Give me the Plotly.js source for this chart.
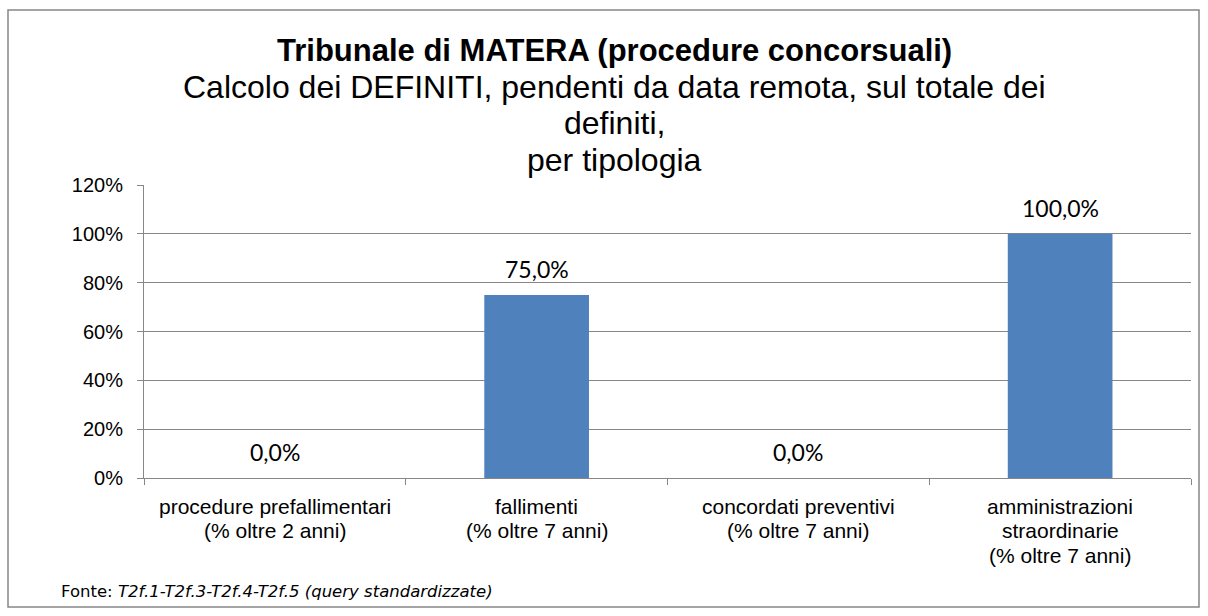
<!DOCTYPE html>
<html>
<head>
<meta charset="utf-8">
<script src="https://cdn.plot.ly/plotly-3.0.1.min.js"></script>
<style>
  html, body { margin: 0; padding: 0; background: #ffffff; }
  #chart { width: 1208px; height: 616px; }
</style>
</head>
<body>
<div id="chart"></div>
<script>
// ---- data ----
const categories = [
  "procedure prefallimentari",
  "fallimenti",
  "concordati preventivi",
  "amministrazioni straordinarie"
];
const tickLabels = [
  "procedure prefallimentari<br>(% oltre 2 anni)",
  "fallimenti<br>(% oltre 7 anni)",
  "concordati preventivi<br>(% oltre 7 anni)",
  "amministrazioni<br>straordinarie<br>(% oltre 7 anni)"
];
const values = [0.0, 0.75, 0.0, 1.0];

const titleLines = [
  "<b>Tribunale di MATERA (procedure concorsuali)</b>",
  "Calcolo dei DEFINITI, pendenti da data remota, sul totale dei",
  "definiti,",
  "per tipologia"
];
const sourceText = "Fonte: <i>T2f.1-T2f.3-T2f.4-T2f.5 (query standardizzate)</i>";

// ---- helpers ----
function fmtPct(v) {
  return (v * 100).toFixed(1).replace('.', ',') + '%';
}

const grey = '#878787';
const plotLeft = 144, plotTop = 185, plotRight = 1191, plotBottom = 478;
const W = 1208, H = 616;

const trace = {
  type: 'bar',
  x: categories,
  y: values,
  marker: { color: '#4F81BD', line: { width: 0 } },
  hoverinfo: 'skip'
};

const annotations = [];
// data labels
categories.forEach((c, i) => {
  annotations.push({
    xref: 'x', yref: 'y', x: c, y: values[i],
    text: fmtPct(values[i]),
    showarrow: false, xanchor: 'center', yanchor: 'middle',
    yshift: 26,
    font: { family: 'Lato, "Open Sans", sans-serif', size: 23, color: '#000000' }
  });
});
// category labels (one annotation per line, to match the tighter line spacing)
categories.forEach((c, i) => {
  tickLabels[i].split('<br>').forEach((line, j) => {
    annotations.push({
      xref: 'x', yref: 'paper', x: c, y: 0,
      yshift: -(28 + 24.5 * j),
      text: line, showarrow: false, xanchor: 'center', yanchor: 'middle',
      font: { family: '"Liberation Sans", Arial, sans-serif', size: 21, color: '#000000' }
    });
  });
});
// title lines
const titleCentersY = [50, 87, 123, 160];
const titleSizes = [31, 32, 32, 32];
titleLines.forEach((t, i) => {
  annotations.push({
    xref: 'paper', yref: 'paper', x: 0, y: 1,
    xshift: 614 - plotLeft, yshift: plotTop - titleCentersY[i],
    text: t, showarrow: false, xanchor: 'center', yanchor: 'middle',
    font: { family: '"Liberation Sans", Arial, sans-serif', size: titleSizes[i], color: '#000000' }
  });
});
// source
annotations.push({
  xref: 'paper', yref: 'paper', x: 0, y: 0,
  xshift: 59 - plotLeft, yshift: plotBottom - 591,
  text: sourceText, showarrow: false, xanchor: 'left', yanchor: 'middle',
  font: { family: '"DejaVu Sans", Verdana, sans-serif', size: 16.5, color: '#000000' }
});

const pw = plotRight - plotLeft, ph = plotBottom - plotTop;
const layout = {
  width: W, height: H,
  margin: { l: plotLeft, r: W - plotRight, t: plotTop, b: H - plotBottom, pad: 0 },
  paper_bgcolor: '#ffffff',
  plot_bgcolor: '#ffffff',
  showlegend: false,
  bargap: 0.6,
  xaxis: {
    type: 'category',
    tickmode: 'array',
    tickvals: categories,
    showticklabels: false,
    tickson: 'boundaries',
    ticks: 'outside', ticklen: 6, tickcolor: grey, tickwidth: 1,
    showline: true, linecolor: grey, linewidth: 1,
    showgrid: false, zeroline: false,
    fixedrange: true
  },
  yaxis: {
    range: [0, 1.2],
    tickmode: 'linear', tick0: 0, dtick: 0.2,
    tickformat: '.0%',
    ticks: 'outside', ticklen: 6, tickcolor: grey, tickwidth: 1,
    showline: true, linecolor: grey, linewidth: 1,
    showgrid: true, gridcolor: grey, gridwidth: 1,
    zeroline: false,
    ticklabelstandoff: 10,
    tickfont: { family: '"Liberation Sans", Arial, sans-serif', size: 20, color: '#000000' },
    fixedrange: true
  },
  shapes: [{
    type: 'rect', xref: 'paper', yref: 'paper',
    x0: (8 - plotLeft) / pw, x1: (1199 - plotLeft) / pw,
    y0: (plotBottom - 607) / ph, y1: (plotBottom - 10) / ph,
    line: { color: grey, width: 1.5 }, fillcolor: 'rgba(0,0,0,0)', layer: 'below'
  }],
  annotations: annotations
};

Plotly.newPlot('chart', [trace], layout, { displayModeBar: false, staticPlot: true });
</script>
</body>
</html>
